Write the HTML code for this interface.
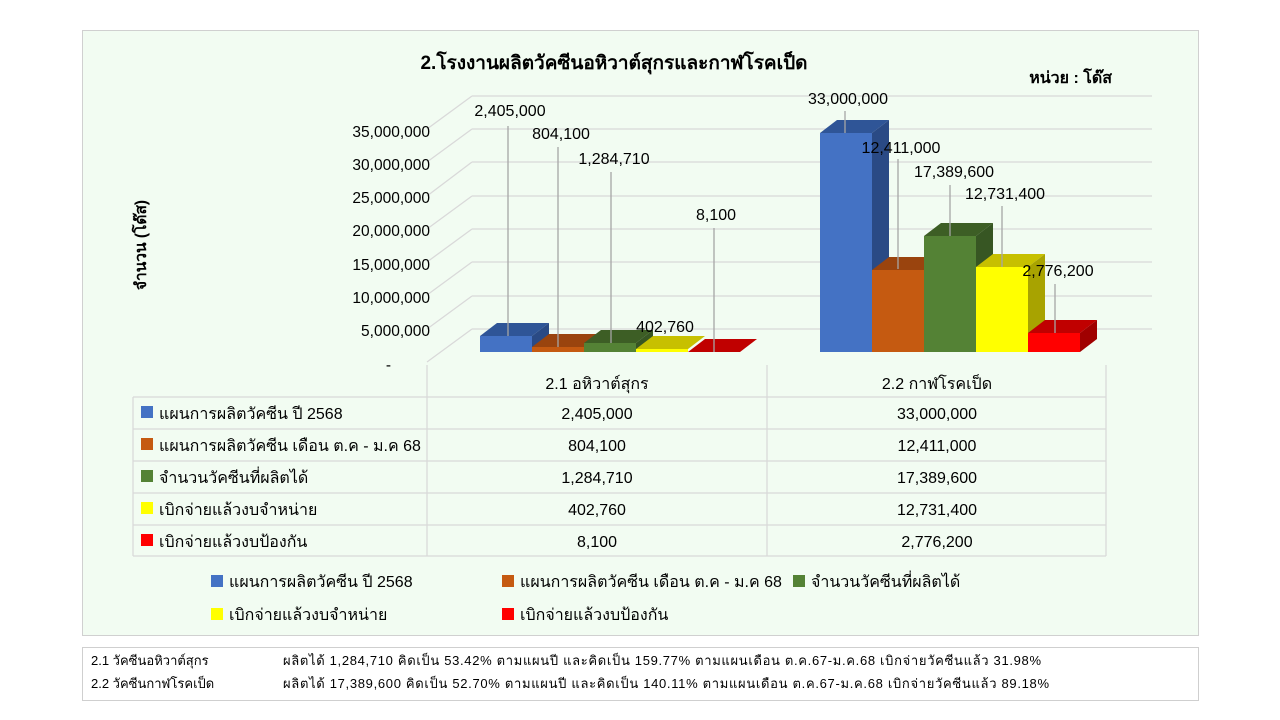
<!DOCTYPE html>
<html><head><meta charset="utf-8"><style>
body{margin:0;background:#fff;width:1280px;height:720px;overflow:hidden}
svg{display:block}
text{font-family:"Liberation Sans","DejaVu Sans",sans-serif;fill:#000}
</style></head><body>
<svg width="1280" height="720" viewBox="0 0 1280 720">
<rect x="82.5" y="30.5" width="1116" height="605" fill="#f2fcf2" stroke="#d0d0d0"/>
<text x="614" y="69" font-size="19" font-weight="bold" text-anchor="middle">2.โรงงานผลิตวัคซีนอหิวาต์สุกรและกาฬโรคเป็ด</text>
<text x="1112" y="83" font-size="16" font-weight="bold" text-anchor="end">หน่วย : โด๊ส</text>
<g stroke="#d9d9d9" stroke-width="1.3" fill="none">
<path d="M472 96H1152M427 129L472 96"/>
<path d="M472 129H1152M427 162L472 129"/>
<path d="M472 162H1152M427 196L472 162"/>
<path d="M472 196H1152M427 229L472 196"/>
<path d="M472 229H1152M427 262L472 229"/>
<path d="M472 262H1152M427 295L472 262"/>
<path d="M472 296H1152M427 329L472 296"/>
<path d="M472 329H1152M427 362L472 329"/>
<path d="M427 365V556M767 365V556M1106 365V556"/>
<path d="M133 397H1106M133 429H1106M133 461H1106M133 493H1106M133 525H1106M133 556H1106M133 397V556"/>
</g>
<g font-size="15.5" text-anchor="end">
<text x="430" y="137">35,000,000</text><text x="430" y="170">30,000,000</text><text x="430" y="203">25,000,000</text><text x="430" y="236">20,000,000</text><text x="430" y="270">15,000,000</text><text x="430" y="303">10,000,000</text><text x="430" y="336">5,000,000</text><text x="391" y="370">-</text>
</g>
<text transform="translate(146,245) rotate(-90)" font-size="15.5" font-weight="bold" text-anchor="middle">จำนวน (โด๊ส)</text>
<g>
<polygon points="480,336 497,323 549,323 532,336" fill="#2f5597"/><polygon points="532,336 549,323 549,339 532,352" fill="#2a4a85"/><rect x="480" y="336" width="52" height="16" fill="#4472c4"/>
<polygon points="532,347 549,334 601,334 584,347" fill="#9a440e"/><rect x="532" y="347" width="52" height="5" fill="#c55a11"/>
<polygon points="584,343 601,330 653,330 636,343" fill="#3d5e25"/><polygon points="636,343 653,330 653,339 636,352" fill="#375623"/><rect x="584" y="343" width="52" height="9" fill="#548235"/>
<polygon points="636,349 653,336 705,336 688,349" fill="#c7c000"/><rect x="636" y="349" width="52" height="3" fill="#ffff00"/>
<polygon points="688,352 705,339 757,339 740,352" fill="#c00000"/>
<polygon points="820,133 837,120 889,120 872,133" fill="#2f5597"/><polygon points="872,133 889,120 889,339 872,352" fill="#2a4a85"/><rect x="820" y="133" width="52" height="219" fill="#4472c4"/>
<polygon points="872,270 889,257 941,257 924,270" fill="#9a440e"/><rect x="872" y="270" width="52" height="82" fill="#c55a11"/>
<polygon points="924,236 941,223 993,223 976,236" fill="#3d5e25"/><polygon points="976,236 993,223 993,339 976,352" fill="#375623"/><rect x="924" y="236" width="52" height="116" fill="#548235"/>
<polygon points="976,267 993,254 1045,254 1028,267" fill="#c7c000"/><polygon points="1028,267 1045,254 1045,339 1028,352" fill="#a8a300"/><rect x="976" y="267" width="52" height="85" fill="#ffff00"/>
<polygon points="1028,333 1045,320 1097,320 1080,333" fill="#c00000"/><polygon points="1080,333 1097,320 1097,339 1080,352" fill="#a00000"/><rect x="1028" y="333" width="52" height="19" fill="#ff0000"/>
</g>
<g stroke="#a6a6a6" stroke-width="1.3">
<path d="M508 126V336M558 147V347M611 172V343M714 228V352M845 111V133M898 159V269M950 185V236M1002 206V267M1055 284V333"/>
</g>
<g font-size="16" text-anchor="middle">
<text x="510" y="116">2,405,000</text><text x="561" y="139">804,100</text><text x="614" y="164">1,284,710</text><text x="716" y="220">8,100</text><text x="665" y="332">402,760</text>
<text x="848" y="104">33,000,000</text><text x="901" y="153">12,411,000</text><text x="954" y="177">17,389,600</text><text x="1005" y="199">12,731,400</text><text x="1058" y="276">2,776,200</text>
</g>
<g font-size="16">
<text x="597" y="389" text-anchor="middle">2.1 อหิวาต์สุกร</text><text x="937" y="389" text-anchor="middle">2.2 กาฬโรคเป็ด</text>
<rect x="141" y="406" width="12" height="12" fill="#4472c4"/><text x="159" y="419">แผนการผลิตวัคซีน ปี 2568</text>
<rect x="141" y="438" width="12" height="12" fill="#c55a11"/><text x="159" y="451">แผนการผลิตวัคซีน เดือน ต.ค - ม.ค 68</text>
<rect x="141" y="470" width="12" height="12" fill="#548235"/><text x="159" y="483">จำนวนวัคซีนที่ผลิตได้</text>
<rect x="141" y="502" width="12" height="12" fill="#ffff00"/><text x="159" y="515">เบิกจ่ายแล้วงบจำหน่าย</text>
<rect x="141" y="534" width="12" height="12" fill="#ff0000"/><text x="159" y="547">เบิกจ่ายแล้วงบป้องกัน</text>
<g text-anchor="middle">
<text x="597" y="419">2,405,000</text><text x="937" y="419">33,000,000</text>
<text x="597" y="451">804,100</text><text x="937" y="451">12,411,000</text>
<text x="597" y="483">1,284,710</text><text x="937" y="483">17,389,600</text>
<text x="597" y="515">402,760</text><text x="937" y="515">12,731,400</text>
<text x="597" y="547">8,100</text><text x="937" y="547">2,776,200</text>
</g>
<rect x="211" y="575" width="12" height="12" fill="#4472c4"/><text x="229" y="587">แผนการผลิตวัคซีน ปี 2568</text>
<rect x="502" y="575" width="12" height="12" fill="#c55a11"/><text x="520" y="587">แผนการผลิตวัคซีน เดือน ต.ค - ม.ค 68</text>
<rect x="793" y="575" width="12" height="12" fill="#548235"/><text x="811" y="587">จำนวนวัคซีนที่ผลิตได้</text>
<rect x="211" y="608" width="12" height="12" fill="#ffff00"/><text x="229" y="620">เบิกจ่ายแล้วงบจำหน่าย</text>
<rect x="502" y="608" width="12" height="12" fill="#ff0000"/><text x="520" y="620">เบิกจ่ายแล้วงบป้องกัน</text>
</g>
<rect x="82.5" y="647.5" width="1116" height="53" fill="#fff" stroke="#cfcfcf"/>
<g font-size="13">
<text x="91" y="665">2.1 วัคซีนอหิวาต์สุกร</text><text x="283" y="665" textLength="758" lengthAdjust="spacing">ผลิตได้  1,284,710 คิดเป็น  53.42% ตามแผนปี และคิดเป็น  159.77% ตามแผนเดือน  ต.ค.67-ม.ค.68  เบิกจ่ายวัคซีนแล้ว  31.98%</text>
<text x="91" y="688">2.2 วัคซีนกาฬโรคเป็ด</text><text x="283" y="688" textLength="766" lengthAdjust="spacing">ผลิตได้  17,389,600 คิดเป็น  52.70% ตามแผนปี และคิดเป็น  140.11% ตามแผนเดือน  ต.ค.67-ม.ค.68  เบิกจ่ายวัคซีนแล้ว  89.18%</text>
</g>
</svg>
</body></html>
